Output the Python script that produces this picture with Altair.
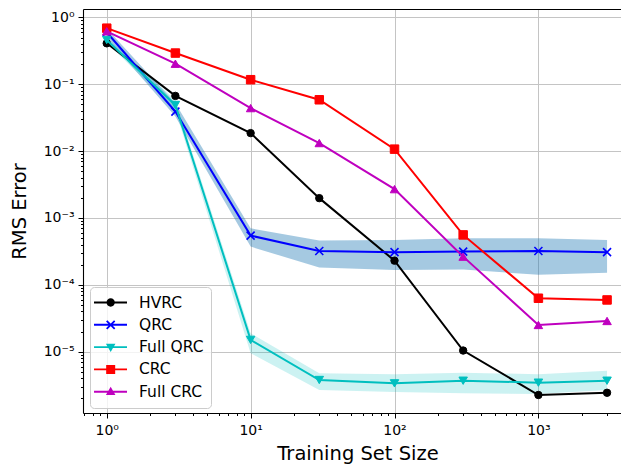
import altair as alt
import pandas as pd

# ---------------- data ----------------
sizes = [1, 3, 10, 30, 100, 300, 1000, 3000]

hvrc = [0.41, 0.067, 0.0186, 0.00198, 2.3e-4, 1.04e-5, 2.25e-6, 2.43e-6]
qrc = [0.6, 0.039, 5.45e-4, 3.21e-4, 3.08e-4, 3.14e-4, 3.21e-4, 3.08e-4]
qrc_lo = [0.5, 0.033, 3.73e-4, 1.81e-4, 1.67e-4, 1.7e-4, 1.41e-4, 1.52e-4]
qrc_hi = [0.68, 0.052, 7.0e-4, 4.6e-4, 4.7e-4, 4.98e-4, 4.98e-4, 4.7e-4]
full_qrc = [0.46, 0.049, 1.5e-5, 3.77e-6, 3.36e-6, 3.68e-6, 3.44e-6, 3.68e-6]
full_qrc_lo = [0.42, 0.041, 9.5e-6, 2.67e-6, 2.5e-6, 2.38e-6, 2.33e-6, 2.67e-6]
full_qrc_hi = [0.5, 0.058, 1.89e-5, 4.74e-6, 4.6e-6, 4.85e-6, 4.6e-6, 5.2e-6]
crc = [0.69, 0.293, 0.117, 0.0586, 0.0107, 5.58e-4, 6.3e-5, 5.94e-5]
full_crc = [0.62, 0.203, 0.044, 0.0132, 0.0027, 2.64e-4, 2.51e-5, 2.88e-5]

series_names = ["HVRC", "QRC", "Full QRC", "CRC", "Full CRC"]
series_values = [hvrc, qrc, full_qrc, crc, full_crc]
series_colors = ["#000000", "#0000ff", "#00bfbf", "#ff0000", "#bf00bf"]

x_major = [1, 10, 100, 1000]
y_major = [1e-5, 1e-4, 1e-3, 1e-2, 1e-1, 1]
x_domain = [0.684, 3750]
y_domain = [1.21e-6, 1.336]

# ---------------- helpers ----------------
rows = []
for name, vals in zip(series_names, series_values):
    for s, v in zip(sizes, vals):
        rows.append({"series": name, "size": s, "rms": v})
df = pd.DataFrame(rows)

band_df = pd.DataFrame({
    "size": sizes * 2,
    "band": ["QRC"] * len(sizes) + ["Full QRC"] * len(sizes),
    "lo": qrc_lo + full_qrc_lo,
    "hi": qrc_hi + full_qrc_hi,
})

x_minor = [m * 10 ** k for k in range(-1, 4) for m in range(2, 10)
           if x_domain[0] <= m * 10 ** k <= x_domain[1]]
y_minor = [m * 10.0 ** k for k in range(-6, 0) for m in range(2, 10)
           if y_domain[0] <= m * 10.0 ** k <= y_domain[1]]

xscale = alt.Scale(type="log", domain=x_domain, nice=False)
yscale = alt.Scale(type="log", domain=y_domain, nice=False)

FONT = "DejaVu Sans"
sup_expr = ("'10' + (datum.value < 0.999 ? '⁻' : '') + "
            "['⁰','¹','²','³','⁴','⁵','⁶'][abs(round(log(datum.value)/LN10))]")

X_NOAX = alt.X("size:Q", scale=xscale, axis=None)
Y_NOAX = alt.Y("rms:Q", scale=yscale, axis=None)

layers = []

# major axes with grid
major = alt.Chart(df).transform_filter("false").mark_point().encode(
    x=alt.X("size:Q", scale=xscale, axis=alt.Axis(
        values=x_major, labelExpr=sup_expr, grid=True, orient="bottom",
        tickSize=5, labelPadding=5, labelFont=FONT, labelFontSize=14,
        labelColor="black", title="Training Set Size", titleFont=FONT,
        titleFontSize=19.5, titleFontWeight="normal", titleColor="black",
        titleX=274.5, titleY=46, titleBaseline="alphabetic",
        titleAnchor="middle", labelFlush=False)),
    y=alt.Y("rms:Q", scale=yscale, axis=alt.Axis(
        values=y_major, labelExpr=sup_expr, grid=True, orient="left",
        tickSize=5, labelPadding=4, labelFont=FONT, labelFontSize=14,
        labelColor="black", title="RMS Error", titleFont=FONT,
        titleFontSize=19.5, titleFontWeight="normal", titleColor="black",
        titleX=-64, titleY=202, titleAngle=270, titleBaseline="middle",
        titleAlign="center", labelFlush=False)),
)
layers.append(major)

# bands
band_colors = {"QRC": ("#1f77b4", 0.4), "Full QRC": ("#00bfbf", 0.2)}
for b in ["QRC", "Full QRC"]:
    c, op = band_colors[b]
    layers.append(
        alt.Chart(band_df).transform_filter(alt.datum.band == b)
        .mark_area(color=c, opacity=op)
        .encode(x=X_NOAX, y=alt.Y("lo:Q", scale=yscale, axis=None), y2="hi:Q")
    )

# lines + markers
marker_defs = {
    "HVRC": dict(shape="circle", size=55, filled=True, strokeWidth=1),
    "QRC": dict(shape="M-1,-1L1,1M-1,1L1,-1", size=64, filled=False, strokeWidth=1.6),
    "Full QRC": dict(shape="triangle-down", size=72, filled=True, strokeWidth=1),
    "CRC": dict(shape="square", size=72, filled=True, strokeWidth=1),
    "Full CRC": dict(shape="triangle-up", size=72, filled=True, strokeWidth=1),
}
for name, col in zip(series_names, series_colors):
    base = alt.Chart(df).transform_filter(alt.datum.series == name)
    layers.append(base.mark_line(color=col, strokeWidth=2).encode(x=X_NOAX, y=Y_NOAX))
    md = marker_defs[name]
    layers.append(
        base.mark_point(shape=md["shape"], size=md["size"], filled=md["filled"],
                        color=col, stroke=col, strokeWidth=md["strokeWidth"], opacity=1)
        .encode(x=X_NOAX, y=Y_NOAX)
    )

# legend symbols: line + marker, fill-only paths (unit = 8.5 px)
L = "M-1.35,-0.11H2.53V0.11H-1.35Z"
cx = 0.61
r = 0.49
circle_p = f"M{cx + r},0A{r},{r} 0 1,1 {cx - r},0A{r},{r} 0 1,1 {cx + r},0Z"
a = 0.47
h = 0.075
x_p = (f"M{cx - a + h},{-a - h}L{cx + a + h},{a - h}L{cx + a - h},{a + h}L{cx - a - h},{-a + h}Z"
       f"M{cx - a - h},{a - h}L{cx + a - h},{-a - h}L{cx + a + h},{-a + h}L{cx - a + h},{a + h}Z")
tri_down = f"M{cx - 0.56},-0.4L{cx + 0.56},-0.4L{cx},0.58Z"
tri_up = f"M{cx},-0.58L{cx + 0.56},0.4L{cx - 0.56},0.4Z"
sq = f"M{cx - 0.53},-0.53H{cx + 0.53}V0.53H{cx - 0.53}Z"
legend_shapes = [L + circle_p, L + x_p, L + tri_down, L + sq, L + tri_up]

legend_props = dict(
    title=None, orient="none", legendX=7, legendY=278,
    symbolSize=289, symbolStrokeWidth=0, labelOffset=25,
    labelFont=FONT, labelFontSize=15.5, labelColor="black",
    rowPadding=5.3, padding=7, fillColor="rgba(255,255,255,0.8)",
    strokeColor="#cccccc", cornerRadius=4)

legend_layer = alt.Chart(df).transform_filter("false").mark_point(
    filled=True, opacity=1
).encode(
    x=alt.X("size:Q", scale=xscale, axis=alt.Axis(
        values=x_minor, labels=False, grid=False, domain=False, tickSize=2.5,
        orient="bottom", title=None)),
    y=alt.Y("rms:Q", scale=yscale, axis=alt.Axis(
        values=y_minor, labels=False, grid=False, domain=False, tickSize=2.5,
        orient="left", title=None)),
    color=alt.Color("series:N", scale=alt.Scale(domain=series_names, range=series_colors),
                    legend=alt.Legend(**legend_props)),
    shape=alt.Shape("series:N", scale=alt.Scale(domain=series_names, range=legend_shapes),
                    legend=alt.Legend(**legend_props)),
)
layers.append(legend_layer)

# top spine
top_layer = alt.Chart(df).transform_filter("false").mark_point().encode(
    x=alt.X("size:Q", scale=xscale, axis=alt.Axis(
        orient="top", labels=False, ticks=False, grid=False, domain=True, title=None)),
    y=Y_NOAX,
)
layers.append(top_layer)

chart = alt.layer(*layers).resolve_axis(
    x="independent", y="independent"
).properties(
    width=538, height=404,
    autosize=alt.AutoSizeParams(type="none"),
    padding={"left": 75, "top": 1, "right": 0, "bottom": 56},
).configure_view(
    stroke="transparent"
).configure_axis(
    gridColor="#c4c4c4", gridWidth=1, domainColor="black", domainWidth=1.1,
    tickColor="black", tickWidth=1,
)

chart.save("out.html", embed_options={"renderer": "svg", "actions": False})
